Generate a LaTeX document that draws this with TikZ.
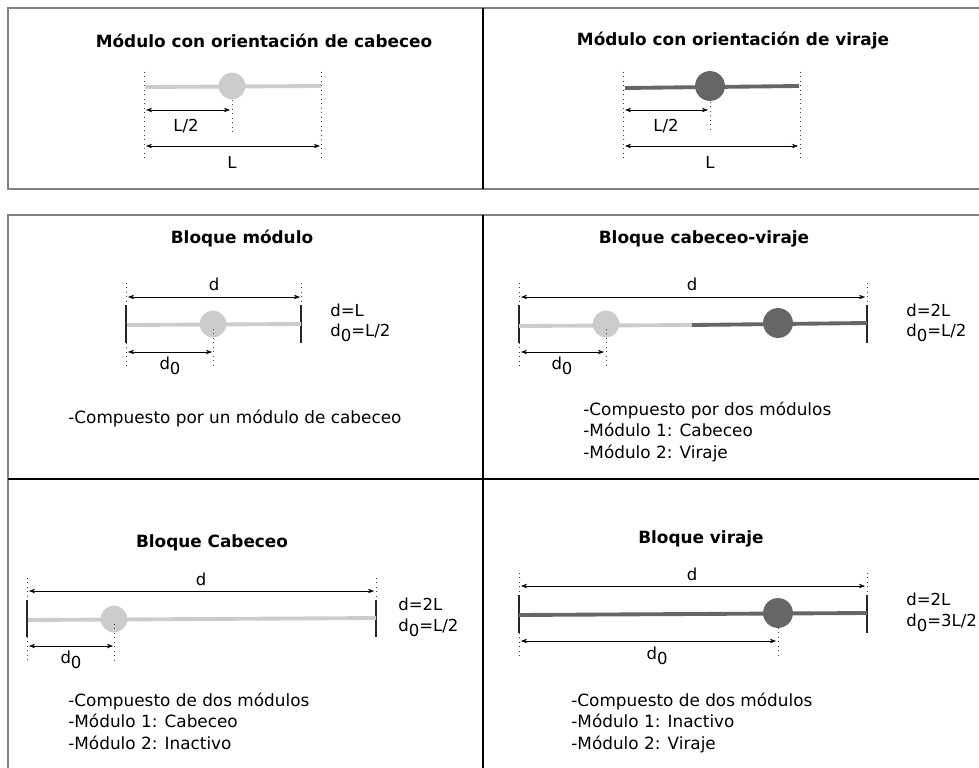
\documentclass[tikz,border=0pt]{standalone}
\usepackage{fontspec}
\setmainfont{DejaVu Sans}
\usepackage{xcolor}
\usetikzlibrary{arrows.meta, calc}

\definecolor{cabeceo}{HTML}{CCCCCC}
\definecolor{viraje}{HTML}{666666}
\definecolor{marco}{HTML}{808080}
\newcommand{\dcero}{d\raisebox{-3pt}{0}}

\begin{document}
\begin{tikzpicture}[x=0.02cm, y=-0.02cm,
    titulo/.style={font=\bfseries\fontsize{9.6}{11}\selectfont, inner sep=0pt},
    texto/.style={font=\fontsize{9.6}{12}\selectfont, inner sep=0pt, align=left, anchor=north west},
    etiq/.style={font=\fontsize{9.4}{11}\selectfont, inner sep=0pt},
    cota/.style={{Stealth[length=3.5pt,width=2.6pt]}-{Stealth[length=3.5pt,width=2.6pt]}, line width=0.4pt},
    guia/.style={dotted, line width=0.55pt, black!75},
    barra/.style={line width=2.2pt},
    tope/.style={line width=0.6pt, black!85}]
   \useasboundingbox (0,0) rectangle (979,767);

   % marcos
   \draw[marco, line width=0.8pt] (990,8) -- (8,8) -- (8,189) -- (990,189);
   \draw[marco, line width=0.8pt] (990,215) -- (8,215) -- (8,780);
   \draw[line width=0.6pt] (483,8) -- (483,189);
   \draw[line width=0.6pt] (483,215) -- (483,780);
   \draw[line width=0.6pt] (8,479) -- (990,479);

   % modulo con orientacion de cabeceo
   \node[titulo] (tA) at (264,41) {Módulo con orientación de cabeceo};
   \coordinate (a1) at (145,87);
   \coordinate (a2) at (321,86);
   \coordinate (am) at (232,86);
   \draw[guia] (144,72) -- (144,160);
   \draw[guia] (321,72) -- (321,160);
   \draw[barra, cabeceo] (a1) -- (a2);
   \fill[cabeceo] (am) circle (7.6pt);
   \draw[guia] ($(am)+(0,14)$) -- ($(am)+(0,46)$);
   \coordinate (aL0) at (146,110);
   \coordinate (aL1) at (230,110);
   \draw[cota] (aL0) -- (aL1);
   \node[etiq] (lA) at (186,126) {L/2};
   \coordinate (aT0) at (146,146);
   \coordinate (aT1) at (320,146);
   \draw[cota] (aT0) -- (aT1);
   \node[etiq] (LA) at (232,162) {L};

   % modulo con orientacion de viraje
   \node[titulo] (tB) at (733,41) {Módulo con orientación de viraje};
   \coordinate (b1) at (625,88);
   \coordinate (b2) at (799,86);
   \coordinate (bm) at (710,86);
   \draw[guia] (623,72) -- (623,160);
   \draw[guia] (800,72) -- (800,160);
   \draw[barra, viraje] (b1) -- (b2);
   \fill[viraje] (bm) circle (8.5pt);
   \draw[guia] ($(bm)+(0,16)$) -- ($(bm)+(0,46)$);
   \coordinate (bL0) at (625,110);
   \coordinate (bL1) at (708,110);
   \draw[cota] (bL0) -- (bL1);
   \node[etiq] (lB) at (666,126) {L/2};
   \coordinate (bT0) at (625,146);
   \coordinate (bT1) at (798,146);
   \draw[cota] (bT0) -- (bT1);
   \node[etiq] (LB) at (710,162) {L};

   % bloque modulo
   \node[titulo] (tC) at (242,239) {Bloque módulo};
   \coordinate (c1) at (127,325);
   \coordinate (c2) at (301,324);
   \coordinate (cm) at (213,324);
   \draw[guia] (126,283) -- (126,305);
   \draw[guia] (126,343) -- (126,367);
   \draw[guia] (301,283) -- (301,305);
   \draw[tope] (126,305) -- (126,343);
   \draw[tope] (301,305) -- (301,343);
   \draw[barra, cabeceo] (c1) -- (c2);
   \fill[cabeceo] (cm) circle (7.6pt);
   \draw[guia] ($(cm)+(0,5)$) -- ($(cm)+(0,42)$);
   \coordinate (cd0) at (128,297);
   \coordinate (cd1) at (300,297);
   \draw[cota] (cd0) -- (cd1);
   \node[etiq] (dC) at (214,284) {d};
   \coordinate (cz0) at (128,352);
   \coordinate (cz1) at (212,352);
   \draw[cota] (cz0) -- (cz1);
   \node[etiq] (zC) at (170,366) {\dcero};
   \node[etiq, anchor=west] (eC1) at (330,310) {d=L};
   \node[etiq, anchor=west] (eC2) at (330,333) {\dcero=L/2};
   \node[texto] (xC) at (68,410) {-Compuesto por un módulo de cabeceo};

   % bloque cabeceo-viraje
   \node[titulo] (tD) at (704,239) {Bloque cabeceo-viraje};
   \coordinate (d1) at (519,326);
   \coordinate (d2) at (692,325);
   \coordinate (d3) at (867,323);
   \coordinate (dm1) at (606,324);
   \coordinate (dm2) at (778,323);
   \draw[guia] (519,283) -- (519,305);
   \draw[guia] (519,343) -- (519,367);
   \draw[guia] (867,283) -- (867,305);
   \draw[tope] (519,305) -- (519,343);
   \draw[tope] (867,305) -- (867,343);
   \draw[barra, cabeceo] (d1) -- (d2);
   \draw[barra, viraje] (d2) -- (d3);
   \fill[cabeceo] (dm1) circle (7.6pt);
   \fill[viraje] (dm2) circle (8.5pt);
   \draw[guia] ($(dm1)+(0,5)$) -- ($(dm1)+(0,42)$);
   \coordinate (dd0) at (521,297);
   \coordinate (dd1) at (865,297);
   \draw[cota] (dd0) -- (dd1);
   \node[etiq] (dD) at (692,284) {d};
   \coordinate (dz0) at (521,352);
   \coordinate (dz1) at (604,352);
   \draw[cota] (dz0) -- (dz1);
   \node[etiq] (zD) at (562,366) {\dcero};
   \node[etiq, anchor=west] (eD1) at (906,310) {d=2L};
   \node[etiq, anchor=west] (eD2) at (906,333) {\dcero=L/2};
   \node[texto] (xD) at (583,402) {-Compuesto por dos módulos\\-Módulo 1: Cabeceo\\-Módulo 2: Viraje};

   % bloque cabeceo
   \node[titulo] (tE) at (212,543) {Bloque Cabeceo};
   \coordinate (e1) at (28,620);
   \coordinate (e2) at (376,618);
   \coordinate (em) at (114,619);
   \draw[guia] (27,578) -- (27,600);
   \draw[guia] (27,637) -- (27,662);
   \draw[guia] (376,578) -- (376,600);
   \draw[tope] (27,600) -- (27,637);
   \draw[tope] (376,600) -- (376,637);
   \draw[barra, cabeceo] (e1) -- (e2);
   \fill[cabeceo] (em) circle (7.6pt);
   \draw[guia] ($(em)+(0,5)$) -- ($(em)+(0,43)$);
   \coordinate (ed0) at (29,591);
   \coordinate (ed1) at (374,591);
   \draw[cota] (ed0) -- (ed1);
   \node[etiq] (dE) at (201,579) {d};
   \coordinate (ez0) at (29,646);
   \coordinate (ez1) at (113,646);
   \draw[cota] (ez0) -- (ez1);
   \node[etiq] (zE) at (71,660) {\dcero};
   \node[etiq, anchor=west] (eE1) at (398,604) {d=2L};
   \node[etiq, anchor=west] (eE2) at (398,628) {\dcero=L/2};
   \node[texto] (xE) at (68,693) {-Compuesto de dos módulos\\-Módulo 1: Cabeceo\\-Módulo 2: Inactivo};

   % bloque viraje
   \node[titulo] (tF) at (701,539) {Bloque viraje};
   \coordinate (f1) at (519,615);
   \coordinate (f2) at (867,613);
   \coordinate (fm) at (778,613);
   \draw[guia] (519,573) -- (519,595);
   \draw[guia] (519,633) -- (519,656);
   \draw[guia] (867,573) -- (867,595);
   \draw[tope] (519,595) -- (519,633);
   \draw[tope] (867,595) -- (867,633);
   \draw[barra, viraje] (f1) -- (f2);
   \fill[viraje] (fm) circle (8.5pt);
   \draw[guia] ($(fm)+(0,15)$) -- ($(fm)+(0,43)$);
   \coordinate (fd0) at (521,586);
   \coordinate (fd1) at (865,586);
   \draw[cota] (fd0) -- (fd1);
   \node[etiq] (dF) at (692,574) {d};
   \coordinate (fz0) at (521,641);
   \coordinate (fz1) at (776,641);
   \draw[cota] (fz0) -- (fz1);
   \node[etiq] (zF) at (657,656) {\dcero};
   \node[etiq, anchor=west] (eF1) at (906,599) {d=2L};
   \node[etiq, anchor=west] (eF2) at (906,623) {\dcero=3L/2};
   \node[texto] (xF) at (571,693) {-Compuesto de dos módulos\\-Módulo 1: Inactivo\\-Módulo 2: Viraje};
\end{tikzpicture}
\end{document}
